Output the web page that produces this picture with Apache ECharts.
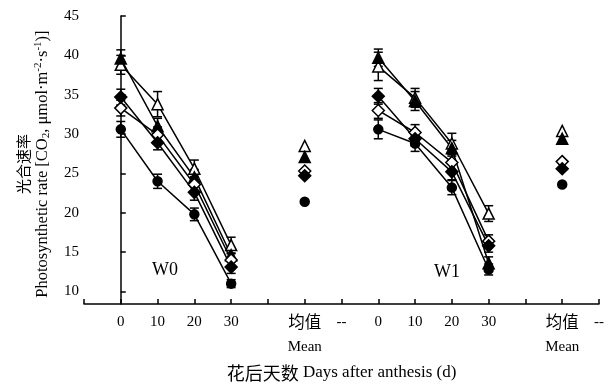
<!DOCTYPE html>
<html>
<head>
<meta charset="utf-8">
<script src="https://cdn.jsdelivr.net/npm/echarts@6/dist/echarts.min.js"></script>
<style>
  html, body { margin: 0; padding: 0; background: #fff; }
  #chart { width: 614px; height: 387px; }
</style>
</head>
<body>
<div id="chart"></div>
<script>
// x positions: W0 days 0..3, mean 5; W1 days 7..10, mean 12
const tickLabels = ['', '0', '10', '20', '30', '', '{c|均值}\nMean', '--', '0', '10', '20', '30', '', '{c|均值}\nMean', '--']
const w0Pos = [0, 1, 2, 3]
const w1Pos = [7, 8, 9, 10]
const meanPos = [5, 12]

// five treatments: values at days 0,10,20,30 and mean
const openTriW0 = [38.8, 33.8, 25.6, 15.9]
const openTriW1 = [38.6, 34.6, 28.8, 19.9]
const openTriMean = [28.5, 30.4]
const openTriErr0 = [1.2, 1.6, 1.1, 1.0]
const openTriErr1 = [1.8, 1.2, 1.3, 1.0]

const fillTriW0 = [39.6, 31.0, 24.5, 14.6]
const fillTriW1 = [39.7, 34.2, 28.2, 13.6]
const fillTriMean = [27.1, 29.4]
const fillTriErr0 = [1.1, 1.0, 1.0, 0.8]
const fillTriErr1 = [1.1, 1.2, 1.0, 0.8]

const openDiaW0 = [33.3, 29.9, 23.6, 14.0]
const openDiaW1 = [33.0, 30.2, 26.4, 16.4]
const openDiaMean = [25.3, 26.5]
const openDiaErr0 = [1.0, 1.0, 1.0, 0.8]
const openDiaErr1 = [1.0, 1.0, 1.0, 0.8]

const fillDiaW0 = [34.7, 28.9, 22.6, 13.1]
const fillDiaW1 = [34.8, 29.4, 25.2, 15.8]
const fillDiaMean = [24.7, 25.6]
const fillDiaErr0 = [1.0, 0.9, 1.0, 0.8]
const fillDiaErr1 = [1.0, 0.9, 1.0, 0.8]

const circleW0 = [30.6, 24.0, 19.8, 11.0]
const circleW1 = [30.6, 28.8, 23.2, 12.8]
const circleMean = [21.4, 23.6]
const circleErr0 = [1.0, 0.9, 0.8, 0.5]
const circleErr1 = [1.2, 1.0, 0.9, 0.7]

const font = "'Liberation Serif', 'Noto Sans CJK SC', serif"
const cjk = "'Noto Sans CJK SC', serif"

function buildLine(w0, w1, mean) {
    const d = []
    w0Pos.forEach((x, i) => d.push([x, w0[i]]))
    d.push([4, '-'])
    d.push([meanPos[0], mean[0]])
    d.push([6, '-'])
    w1Pos.forEach((x, i) => d.push([x, w1[i]]))
    d.push([11, '-'])
    d.push([meanPos[1], mean[1]])
    return d
}

function buildErr(w0, e0, w1, e1) {
    const d = []
    w0Pos.forEach((x, i) => d.push([x, w0[i] - e0[i], w0[i] + e0[i]]))
    w1Pos.forEach((x, i) => d.push([x, w1[i] - e1[i], w1[i] + e1[i]]))
    return d
}

function renderErr(params, api) {
    const x = api.value(0)
    const lo = api.coord([x, api.value(1)])
    const hi = api.coord([x, api.value(2)])
    const w = 4.5
    const st = { stroke: '#000', lineWidth: 1.5 }
    return {
        type: 'group',
        children: [
            { type: 'line', shape: { x1: lo[0], y1: lo[1], x2: hi[0], y2: hi[1] }, style: st },
            { type: 'line', shape: { x1: lo[0] - w, y1: lo[1], x2: lo[0] + w, y2: lo[1] }, style: st },
            { type: 'line', shape: { x1: hi[0] - w, y1: hi[1], x2: hi[0] + w, y2: hi[1] }, style: st }
        ]
    }
}

const groups = [
    { name: '开三角', w0: openTriW0, w1: openTriW1, mean: openTriMean, e0: openTriErr0, e1: openTriErr1, symbol: 'triangle', fill: '#fff', size: 11 },
    { name: '实三角', w0: fillTriW0, w1: fillTriW1, mean: fillTriMean, e0: fillTriErr0, e1: fillTriErr1, symbol: 'triangle', fill: '#000', size: 11 },
    { name: '开菱形', w0: openDiaW0, w1: openDiaW1, mean: openDiaMean, e0: openDiaErr0, e1: openDiaErr1, symbol: 'diamond', fill: '#fff', size: 12 },
    { name: '实菱形', w0: fillDiaW0, w1: fillDiaW1, mean: fillDiaMean, e0: fillDiaErr0, e1: fillDiaErr1, symbol: 'diamond', fill: '#000', size: 12 },
    { name: '圆', w0: circleW0, w1: circleW1, mean: circleMean, e0: circleErr0, e1: circleErr1, symbol: 'circle', fill: '#000', size: 9 }
]

const series = []
groups.forEach(g => {
    series.push({
        type: 'custom',
        name: g.name + '误差',
        renderItem: renderErr,
        data: buildErr(g.w0, g.e0, g.w1, g.e1),
        z: 1,
        silent: true
    })
})
groups.forEach(g => {
    series.push({
        type: 'line',
        name: g.name,
        data: buildLine(g.w0, g.w1, g.mean),
        symbol: g.symbol,
        symbolSize: g.size,
        showSymbol: true,
        connectNulls: false,
        lineStyle: { color: '#000', width: 1.5 },
        itemStyle: { color: g.fill, borderColor: '#000', borderWidth: 1.5 },
        z: 3
    })
})

const chart = echarts.init(document.getElementById('chart'))
chart.setOption({
    animation: false,
    backgroundColor: '#fff',
    grid: { left: 84, right: 15, top: 16, bottom: 68 },
    xAxis: {
        type: 'value',
        min: -1,
        max: 13,
        interval: 1,
        splitLine: { show: false },
        axisLine: { lineStyle: { color: '#000', width: 1.5 } },
        axisTick: { inside: true, length: 5, lineStyle: { color: '#000', width: 1.5 } },
        axisLabel: {
            color: '#000', fontFamily: font, fontSize: 15, lineHeight: 25, margin: 5,
            formatter: v => tickLabels[Math.round(v) + 1] || '',
            rich: { c: { fontFamily: cjk, fontSize: 16.5, lineHeight: 25, color: '#000' } }
        },
        name: '{c|花后天数} Days after anthesis (d)',
        nameLocation: 'middle',
        nameGap: 45,
        nameTextStyle: {
            color: '#000', fontFamily: font, fontSize: 17,
            rich: { c: { fontFamily: cjk, fontSize: 18, color: '#000' } }
        }
    },
    yAxis: {
        type: 'value',
        min: 8.4,
        max: 45,
        splitNumber: 8,
        splitLine: { show: false },
        axisLine: { show: true, lineStyle: { color: '#000', width: 1.5 } },
        axisTick: { show: true, inside: true, length: 5, lineStyle: { color: '#000', width: 1.5 } },
        axisLabel: { color: '#000', fontFamily: font, fontSize: 15, margin: 5, showMinLabel: false },
        name: '{a|光合速率}\n{b|Photosynthetic rate [CO}{sub|2}{b|, μmol·m}{sup|-2}{b|·s}{sup|-1}{b|)]}',
        nameLocation: 'middle',
        nameGap: 32,
        nameTextStyle: {
            color: '#000',
            padding: [0, 8, 0, 0],
            rich: {
                a: { fontFamily: cjk, fontSize: 15, lineHeight: 19, color: '#000' },
                b: { fontFamily: font, fontSize: 16.5, lineHeight: 19, color: '#000' },
                sub: { fontFamily: font, fontSize: 11, lineHeight: 19, verticalAlign: 'bottom', color: '#000' },
                sup: { fontFamily: font, fontSize: 11, lineHeight: 19, verticalAlign: 'top', color: '#000' }
            }
        }
    },
    graphic: [
        { type: 'text', left: 152, top: 261, style: { text: 'W0', font: '18px ' + font, fill: '#000' } },
        { type: 'text', left: 434, top: 263, style: { text: 'W1', font: '18px ' + font, fill: '#000' } }
    ],
    series: series
})
</script>
</body>
</html>
